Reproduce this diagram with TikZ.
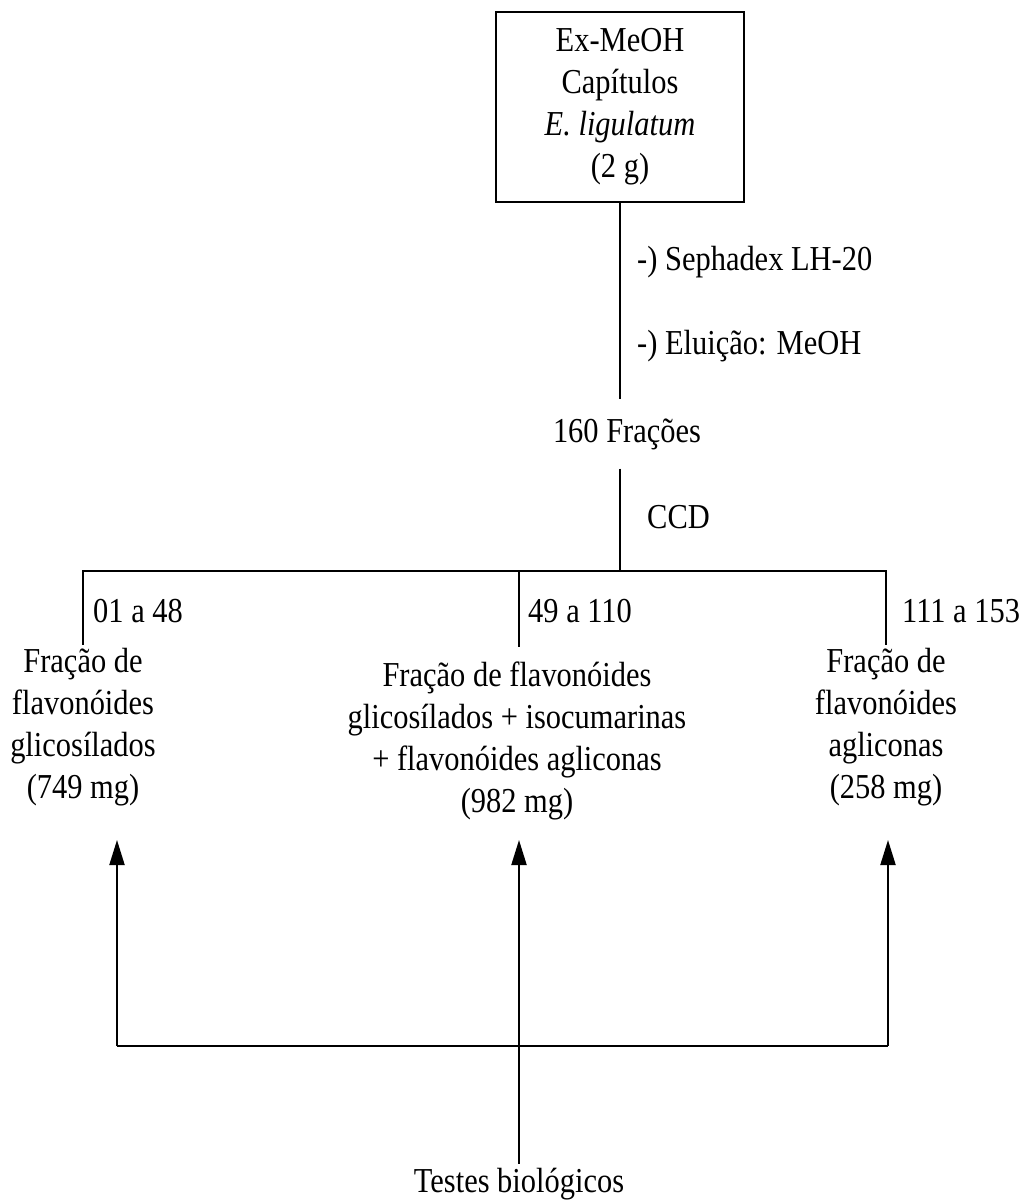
\documentclass[tikz,border=0pt]{standalone}
\usepackage{fontspec}
\setmainfont{Liberation Serif}[FakeStretch=0.87]
\usetikzlibrary{arrows.meta, positioning}
\tikzstyle{extbox} = [rectangle, draw=black, line width=2pt, minimum width=248pt, minimum height=190pt, align=center, inner sep=0pt]
\tikzstyle{fraction} = [align=center, inner xsep=0pt, inner ysep=3pt]
\tikzstyle{note} = [anchor=base west, inner sep=0pt]
\tikzstyle{line} = [line width=2pt]
\tikzstyle{arrow} = [line width=2pt, -{Triangle[length=25pt,width=15pt]}]

\begin{document}
\begin{tikzpicture}[x=1pt, y=1pt, node distance=327pt, font=\fontsize{35}{42}\selectfont]
    \useasboundingbox (0,0) rectangle (1026,-1202);

    % Nodes
    \node (ext) [extbox] at (620,-107) {Ex-MeOH\\Capítulos\\\textit{E. ligulatum}\\(2 g)};
    \node (fr160) [fraction, inner ysep=19pt, below of=ext, xshift=7pt] {160 Frações};
    \node (fracA) [fraction] at (83,-727) {Fração de\\flavonóides\\glicosílados\\(749 mg)};
    \node (fracB) [fraction] at (517,-741) {Fração de flavonóides\\glicosílados + isocumarinas\\+ flavonóides agliconas\\(982 mg)};
    \node (fracC) [fraction] at (886,-727) {Fração de\\flavonóides\\agliconas\\(258 mg)};
    \node (testes) [fraction, inner ysep=4pt] at (519,-1184) {Testes biológicos};

    % Labels
    \node (seph) [note] at (637,-270) {-) Sephadex LH-20};
    \node (elu) [note] at (637,-354) {-) Eluição: MeOH};
    \node (ccd) [note] at (647,-528) {CCD};
    \node (rangeA) [note] at (93,-622) {01 a 48};
    \node (rangeB) [note] at (528,-622) {49 a 110};
    \node (rangeC) [note] at (902,-622) {111 a 153};

    % Coordinates
    \coordinate (split) at (620,-571);
    \coordinate (dropB) at (519,-647);
    \coordinate (tipA) at (117,-840);
    \coordinate (tipB) at (519,-840);
    \coordinate (tipC) at (888,-840);
    \coordinate (baseA) at (117,-1046);
    \coordinate (baseC) at (888,-1046);

    % Column
    \draw [line] (ext.south) -- (ext.south |- fr160.north);
    \draw [line] (ext.south |- fr160.south) -- (split);
    \draw [line] (fracA.north) |- (split) -| (fracC.north);
    \draw [line] (dropB |- split) -- (dropB);

    % Arrows to tests
    \draw [line] (baseA) -- (baseC);
    \draw [arrow] (baseA) -- (tipA);
    \draw [arrow] (baseC) -- (tipC);
    \draw [arrow] (testes.north) -- (tipB);

\end{tikzpicture}
\end{document}
